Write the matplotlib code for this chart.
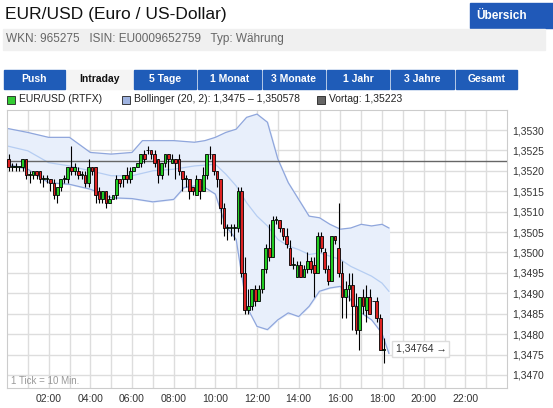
import matplotlib
matplotlib.use("Agg")
import matplotlib.pyplot as plt
from matplotlib.patches import Rectangle
import numpy as np

plt.rcParams['font.family'] = ['Liberation Sans', 'DejaVu Sans']

# candles, 10 min each, pips relative to 1.3500
opens = [23, 21, 21, 21, 21, 23, 19, 19, 20, 20, 18, 18, 18, 17, 14, 16, 18, 18, 21, 20,
         20, 19, 19, 17, 21, 21, 15, 13, 15, 12, 13, 14, 18, 18, 19, 18, 20, 21, 22, 24,
         25, 25, 24, 23, 19, 22, 24, 22, 23, 23, 20, 18, 18, 16, 14, 18, 15, 19, 24, 24,
         20, 18, 11, 6, 6, 6, 6, 15, -5, -14, -13, -9, -12, -9, -4, 1, -1, 8, 8, 6,
         4, 1, -3, -6, -3, -6, -4, -2, -3, -5, 4, 0, -4, -7, 4, 1, -5, -11, -9, -8,
         -13, -19, -11, -14, -11, -12, -12, -16, -24]
closes = [21, 21, 21, 21, 23, 19, 19, 20, 19, 18, 18, 18, 17, 14, 16, 18, 18, 21, 20, 21,
          19, 19, 17, 21, 20, 14, 13, 15, 12, 13, 14, 18, 17, 19, 18, 20, 21, 22, 24, 23,
          25, 24, 22, 19, 22, 24, 23, 23, 22, 20, 18, 18, 15, 15, 18, 15, 19, 24, 24, 20,
          18, 11, 6, 6, 6, 6, 15, -5, -14, -13, -9, -12, -9, -4, 1, -1, 8, 8, 6, 4,
          2, -3, -3, -3, -6, -4, -2, -4, -5, 4, 1, -4, -7, 4, 3, -5, -11, -9, -8, -13,
          -19, -11, -13, -11, -15, -12, -16, -24, -23.6]
highs = [24, 22, 22, 21, 23, 23, 20, 20, 20, 20, 19, 19, 18, 18, 16, 18, 19, 21, 26, 22,
         21, 20, 20, 23, 21, 21, 16, 15, 15, 14, 14, 19, 18, 19, 21, 21, 21, 22, 24, 25,
         26, 25, 25, 23, 22, 24, 24, 24, 23, 24, 20, 19, 18, 16, 19, 18, 21, 24, 26, 24,
         20, 18, 12, 7, 7, 7, 16, 16, -1, -9, -9, -8, -8, -4, 2, 7, 9, 9, 8, 6,
         6, 3, -1, -2, -2, -3, 0, -1, -1, 5, 5, 1, -3, 4, 4, 12, -2, -7, -5, -5,
         -10, -11, -9, -8, -9, -12, -11, -15, -21]
lows = [20, 20, 20, 20, 20, 18, 17, 18, 18, 17, 16, 17, 15, 13, 12, 15, 17, 17, 19, 19,
        18, 18, 16, 16, 19, 12, 12, 12, 11, 12, 13, 13, 16, 16, 17, 17, 20, 21, 21, 22,
        24, 23, 21, 17, 18, 21, 19, 22, 18, 19, 15, 16, 13, 14, 14, 13, 15, 18, 23, 19,
        16, 7, 4, 3, 4, 3, 5, -6, -15, -15, -14, -13, -12, -10, -5, -2, -1, 7, 5, 3,
        1, -3, -4, -6, -6, -6, -5, -5, -11, -5, 0, -5, -8, -7, 2, -6, -16, -16, -12, -19,
        -20, -24, -15, -17, -15, -12, -17, -24, -27]

# Bollinger (20, 2), read at these hours, in pips above 1.3470
band_hours = [0, 1, 2, 3, 4, 5, 6, 6.5, 7, 8, 8.5, 9, 9.5, 10, 10.5, 11, 11.5, 12, 12.5, 13,
              13.5, 14, 14.5, 15, 15.5, 16, 16.5, 17, 17.5, 18, 18.33]
upper = [60.4, 59.4, 58.2, 58.2, 54.5, 54.1, 54.5, 57.4, 57.4, 57.4, 57.2, 57, 57.4, 58.2, 59.4, 60.2,
         63.1, 63.9, 61.9, 52.9, 47.1, 43, 38.9, 38.5, 36.9, 35.7, 36, 36.9, 36.5, 36.9, 36]
lower = [51.6, 50.4, 47.1, 46.7, 45.5, 43.4, 43.2, 42.8, 42.4, 43, 45.9, 46.3, 45.9, 44.3, 36.5, 33.2,
         16.8, 11.9, 11.1, 13.5, 15.2, 14.3, 16.8, 20.5, 21.3, 21.7, 18.4, 15.2, 13.5, 10.2, 5.3]
middle = [56.1, 54.9, 52, 51.2, 50, 48.8, 48.8, 49.4, 50, 50.4, 50.8, 51.2, 51.4, 51.6, 49.2, 46.3,
          42.2, 38.9, 36.5, 33.2, 31.6, 30.7, 29.5, 29.9, 29.1, 28.3, 26.6, 25.4, 24.2, 22.5, 20.5]

vortag = 1.35223
last_price = 1.34764
y_ticks = [1.3470, 1.3475, 1.3480, 1.3485, 1.3490, 1.3495, 1.3500, 1.3505, 1.3510, 1.3515,
           1.3520, 1.3525, 1.3530]
x_ticks = [2, 4, 6, 8, 10, 12, 14, 16, 18, 20, 22]
tabs = ["Push", "Intraday", "5 Tage", "1 Monat", "3 Monate", "1 Jahr", "3 Jahre", "Gesamt"]
tab_x = [4, 67, 134, 198, 263, 327, 391, 456, 519]

W, H = 553, 408
fig = plt.figure(figsize=(W / 100, H / 100), dpi=100)
fig.patch.set_facecolor("white")


def px(x, y):
    return x / W, 1 - y / H


def ftext(x, y, s, **kw):
    fig.text(*px(x, y), s, **kw)


# header
ftext(5, 15, "EUR/USD (Euro / US-Dollar)", fontsize=12.5, va="center", color="#111111")
fig.patches.append(Rectangle(px(470, 28), 83 / W, 25 / H, transform=fig.transFigure,
                             color="#2059b8"))
ftext(476, 16, "Übersich", fontsize=8.5, weight="bold", color="white", va="center")
fig.patches.append(Rectangle(px(3, 50), 542 / W, 21 / H, transform=fig.transFigure,
                             color="#f0f0f0"))
ftext(6, 39, "WKN: 965275   ISIN: EU0009652759   Typ: Währung", fontsize=8.5,
      color="#666666", va="center")

for i, t in enumerate(tabs):
    x0, x1 = tab_x[i], tab_x[i + 1] - 2
    col = "#f4f4f4" if t == "Intraday" else "#1f5cb8"
    fig.patches.append(Rectangle(px(x0, 89), (x1 - x0) / W, 19 / H,
                                 transform=fig.transFigure, color=col))
    ftext((x0 + x1) / 2, 79, t, fontsize=7.5, weight="bold", ha="center", va="center",
          color="#111111" if t == "Intraday" else "white")

# legend line
for lx, c, lab in [(7, "#33cc33", "EUR/USD (RTFX)"),
                   (122, "#9fb3e0", "Bollinger (20, 2): 1,3475 \u2013 1,350578"),
                   (317, "#666666", "Vortag: 1,35223")]:
    fig.patches.append(Rectangle(px(lx, 104), 8 / W, 8 / H, transform=fig.transFigure,
                                 facecolor=c, edgecolor="#222222", lw=0.6))
    ftext(lx + 12, 99.5, lab, fontsize=7.5, va="center", color="#222222")

# chart
ax = fig.add_axes([7 / W, 20 / H, 500 / W, 278 / H])
ax.set_xlim(0, 24)
ax.set_ylim(1.34668, 1.35349)
ax.set_xticks(x_ticks)
ax.set_xticklabels([f"{h:02d}:00" for h in x_ticks], fontsize=7.5, color="#333333")
ax.set_yticks(y_ticks)
ax.set_yticklabels([f"{v:.4f}".replace(".", ",") for v in y_ticks], fontsize=7.5,
                   color="#333333")
ax.yaxis.tick_right()
ax.tick_params(length=0, pad=4)
ax.set_xticks(np.arange(1, 24, 2), minor=True)
ax.tick_params(which="minor", length=0)
ax.grid(True, which="both", color="#dddddd", lw=1)
ax.set_axisbelow(True)
for s in ax.spines.values():
    s.set_color("#cccccc")

bh = np.array(band_hours)
up = 1.3470 + np.array(upper) / 10000
lo = 1.3470 + np.array(lower) / 10000
mi = 1.3470 + np.array(middle) / 10000
ax.fill_between(bh, lo, up, color="#e8effb", zorder=1)
ax.plot(bh, up, color="#8fa6dc", lw=0.9, zorder=2)
ax.plot(bh, lo, color="#8fa6dc", lw=0.9, zorder=2)
ax.plot(bh, mi, color="#b5cdf2", lw=0.9, zorder=2)

ax.axhline(vortag, color="#666666", lw=1, zorder=3)

o = 1.35 + np.array(opens) / 10000
c = 1.35 + np.array(closes) / 10000
hi = 1.35 + np.array(highs) / 10000
lw_ = 1.35 + np.array(lows) / 10000
t = np.arange(len(o)) / 6 + 1 / 12
for i in range(len(o)):
    ax.vlines(t[i], lw_[i], hi[i], color="black", lw=0.8, zorder=4)
    col = "#22cc22" if c[i] >= o[i] else "#dd2222"
    bot = min(o[i], c[i])
    height = max(abs(c[i] - o[i]), 0.00002)
    ax.add_patch(Rectangle((t[i] - 0.065, bot), 0.13, height, facecolor=col,
                           edgecolor="black", lw=0.6, zorder=5))

ax.text(18.65, last_price, "1,34764 \u2192", fontsize=7.5, va="center", color="#333333",
        bbox=dict(boxstyle="square,pad=0.3", fc="white", ec="#dddddd"), zorder=6)
ax.text(0.2, 1.34672, "1 Tick = 10 Min.", fontsize=7, color="#999999", va="bottom")

fig.savefig("out.png", dpi=100)
